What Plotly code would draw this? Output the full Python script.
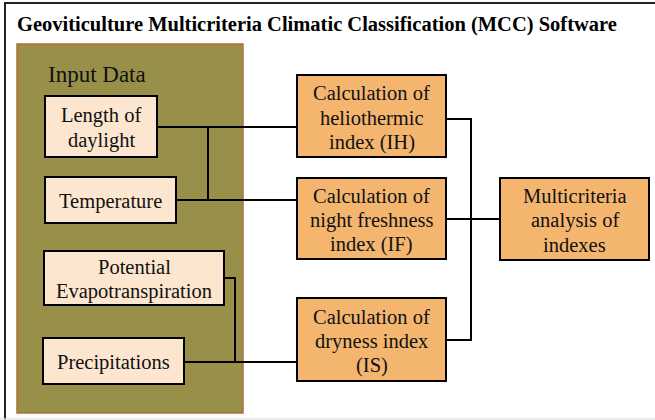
import plotly.graph_objects as go

# ---- content ----
title_text = "Geoviticulture Multicriteria Climatic Classification (MCC) Software"
group_label = "Input Data"
input_labels = ["Length of<br>daylight", "Temperature", "Potential<br>Evapotranspiration", "Precipitations"]
calc_labels = ["Calculation of<br>heliothermic<br>index (IH)",
               "Calculation of<br>night freshness<br>index (IF)",
               "Calculation of<br>dryness index<br>(IS)"]
final_label = "Multicriteria<br>analysis of<br>indexes"

# ---- layout geometry (pixels: x0, y0, x1, y1) ----
input_boxes = [(45, 96, 157, 157), (45, 177, 176, 223), (44, 251, 224, 305), (43, 338, 184, 384)]
calc_boxes = [(297, 75, 446, 157), (297, 178, 446, 259), (297, 298, 446, 381)]
final_box = (500, 178, 649, 260)
group_box = (17, 44, 243, 413)

W, H = 655, 420
SERIF = "Liberation Serif, Times New Roman, serif"
FS = 20.5
LINE = 24.5
DY = 1.5

fig = go.Figure()
shapes = []
annotations = []

def rect(b, fill, line, lw):
    shapes.append(dict(type="rect", xref="x", yref="y", x0=b[0], y0=b[1], x1=b[2], y1=b[3],
                       fillcolor=fill, line=dict(color=line, width=lw), layer="above"))

def seg(pts, color="black", lw=2):
    path = "M " + " L ".join(f"{x},{y}" for x, y in pts)
    shapes.append(dict(type="path", xref="x", yref="y", path=path,
                       line=dict(color=color, width=lw), layer="above"))

# outer frame
seg([(5, 420), (5, 3), (660, 3)], color="#222222", lw=2)
seg([(0, 419), (655, 419)], color="#E6E6E6", lw=1.5)

# group box
rect(group_box, "#988F49", "#B36E3A", 1.5)

# connectors
seg([(157, 127), (297, 127)])
seg([(176, 200), (297, 200)])
seg([(208, 127), (208, 200)])
seg([(224, 278), (235, 278), (235, 362)])
seg([(184, 362), (297, 362)])
seg([(446, 119), (471, 119), (471, 340), (446, 340)])
seg([(446, 219), (500, 219)])

for b in input_boxes:
    rect(b, "#FCE6CF", "black", 2)
for b in calc_boxes:
    rect(b, "#F4B66F", "black", 2)
rect(final_box, "#F4B66F", "black", 2)

def label(b, txt, size=FS):
    lines = txt.split("<br>")
    cx = (b[0] + b[2]) / 2
    cy = (b[1] + b[3]) / 2 + DY
    n = len(lines)
    for i, ln in enumerate(lines):
        annotations.append(dict(x=cx, y=cy + (i - (n - 1) / 2) * LINE, xref="x", yref="y",
                                text=ln, showarrow=False, xanchor="center", yanchor="middle",
                                font=dict(family=SERIF, size=size, color="#111111")))

for b, t in zip(input_boxes, input_labels):
    label(b, t)
for b, t in zip(calc_boxes, calc_labels):
    label(b, t)
label(final_box, final_label)

annotations.append(dict(x=46, y=74, xref="x", yref="y", xanchor="left", yanchor="middle",
                        text=group_label, showarrow=False,
                        font=dict(family=SERIF, size=23, color="#111111")))
annotations.append(dict(x=15, y=24, xref="x", yref="y", xanchor="left", yanchor="middle",
                        text="<b>" + title_text + "</b>", showarrow=False,
                        font=dict(family=SERIF, size=20.5, color="#000000")))

fig.update_layout(
    width=W, height=H, margin=dict(l=0, r=0, t=0, b=0),
    paper_bgcolor="white", plot_bgcolor="white",
    xaxis=dict(range=[0, W], visible=False, fixedrange=True),
    yaxis=dict(range=[H, 0], visible=False, fixedrange=True),
    shapes=shapes, annotations=annotations, showlegend=False,
)
fig.write_html("out.html", config={"displayModeBar": False},
               post_script="document.body.style.margin='0';document.body.style.overflow='hidden';")
